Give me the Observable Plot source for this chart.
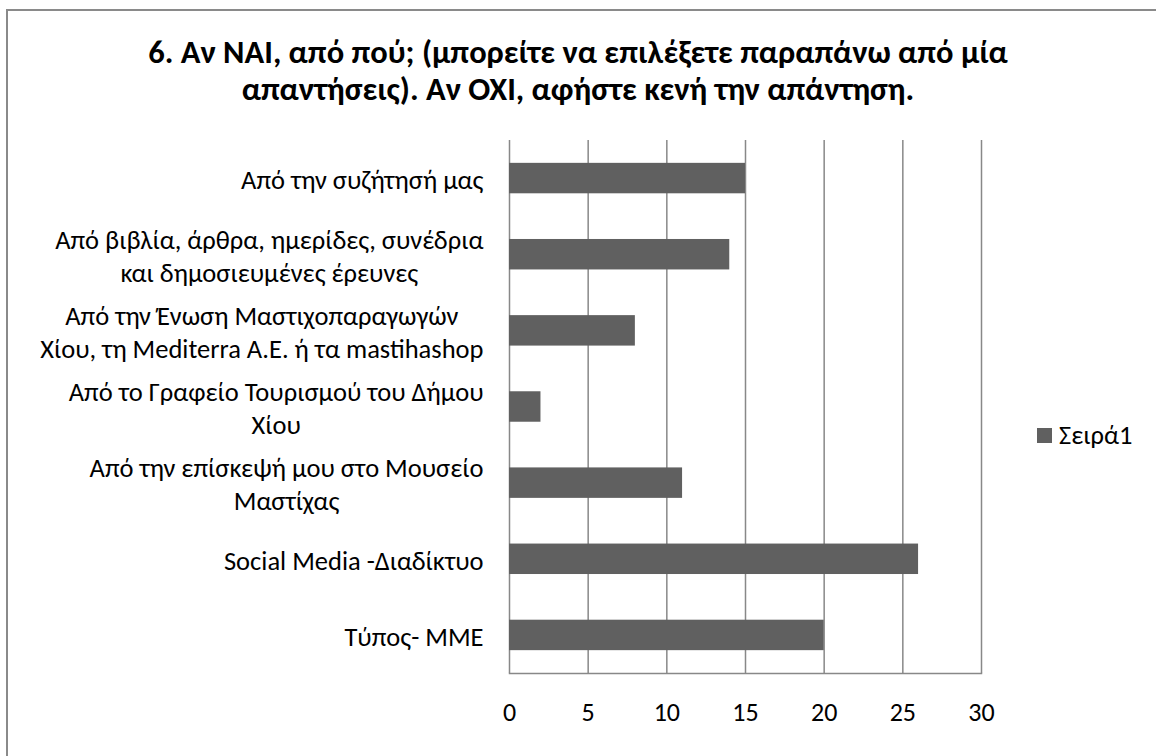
<!DOCTYPE html>
<html>
<head>
<meta charset="utf-8">
<script src="https://cdn.jsdelivr.net/npm/d3@7"></script>
<script src="https://cdn.jsdelivr.net/npm/@observablehq/plot@0.6"></script>
<style>
  html, body { margin: 0; padding: 0; background: #fff; }
  #wrap { position: relative; width: 1156px; height: 756px; overflow: hidden; background: #fff; font-family: Carlito, "Open Sans", sans-serif; }
  #border { position: absolute; left: 6px; top: 9px; width: 1300px; height: 900px; border: 2px solid #8a8a8a; box-sizing: border-box; }
  #title { position: absolute; left: 0; width: 1156px; top: 34px; text-align: center; font-weight: bold; font-size: 32.5px; line-height: 37px; color: #000; }
  #chart { position: absolute; left: 0; top: 0; }
  #legend { position: absolute; left: 1037px; top: 419px; font-size: 26.5px; color: #000; display: flex; align-items: center; line-height: 32px; }
  #legend .sw { width: 15px; height: 15px; background: #606060; margin-right: 7px; }
</style>
</head>
<body>
<div id="wrap">
  <div id="border"></div>
  <div id="title">6. Αν ΝΑΙ, από πού; (μπορείτε να επιλέξετε παραπάνω από μία<br>απαντήσεις). Αν ΟΧΙ, αφήστε κενή την απάντηση.</div>
  <div id="chart"></div>
  <div id="legend"><span class="sw"></span><span>Σειρά1</span></div>
</div>
<script>
const categories = [
  "Από την συζήτησή μας",
  "Από βιβλία, άρθρα, ημερίδες, συνέδρια\nκαι δημοσιευμένες έρευνες",
  "Από την Ένωση Μαστιχοπαραγωγών\nΧίου, τη Mediterra Α.Ε. ή τα mastihashop",
  "Από το Γραφείο Τουρισμού του Δήμου\nΧίου",
  "Από την επίσκεψή μου στο Μουσείο\nΜαστίχας",
  "Social Media -Διαδίκτυο",
  "Τύπος- ΜΜΕ"
];
const values = [15, 14, 8, 2, 11, 26, 20];
const xTicks = [0, 5, 10, 15, 20, 25, 30];
const seriesName = "Σειρά1";

const rows = categories.map((c, i) => ({category: c, value: values[i]}));

const FONT = 'Carlito, "Open Sans", sans-serif';
const LABEL_SIZE = 26.5;
const canvas = document.createElement("canvas");
const ctx = canvas.getContext("2d");
ctx.font = `${LABEL_SIZE}px ${FONT}`;
function blockWidth(s) {
  return d3.max(s.split("\n"), line => ctx.measureText(line).width);
}

const labelMarks = categories.map(c => Plot.text([c], {
  y: d => d,
  text: d => d,
  frameAnchor: "left",
  textAnchor: "middle",
  dx: -(26 + blockWidth(c) / 2),
  lineHeight: 1.24,
  fontSize: LABEL_SIZE,
  fill: "#000"
}));

const chart = Plot.plot({
  width: 1156,
  height: 756,
  marginLeft: 509,
  marginRight: 175,
  marginTop: 140,
  marginBottom: 83,
  style: {fontFamily: FONT, fontSize: "26px", color: "#000", background: "transparent", overflow: "visible"},
  x: {domain: [0, 30], ticks: xTicks},
  y: {type: "band", domain: categories, paddingInner: 0.6, paddingOuter: 0.3, axis: null, round: false},
  marks: [
    Plot.gridX(xTicks, {stroke: "#888", strokeOpacity: 1, strokeWidth: 1.5}),
    Plot.barX(rows, {x: "value", y: "category", fill: "#606060"}),
    Plot.frame({anchor: "bottom", stroke: "#888", strokeOpacity: 1, strokeWidth: 1.5}),
    Plot.axisX(xTicks, {tickSize: 0, tickPadding: 29, fontSize: 26, label: null, fill: "#000"}),
    ...labelMarks
  ]
});
document.getElementById("chart").appendChild(chart);
</script>
</body>
</html>
